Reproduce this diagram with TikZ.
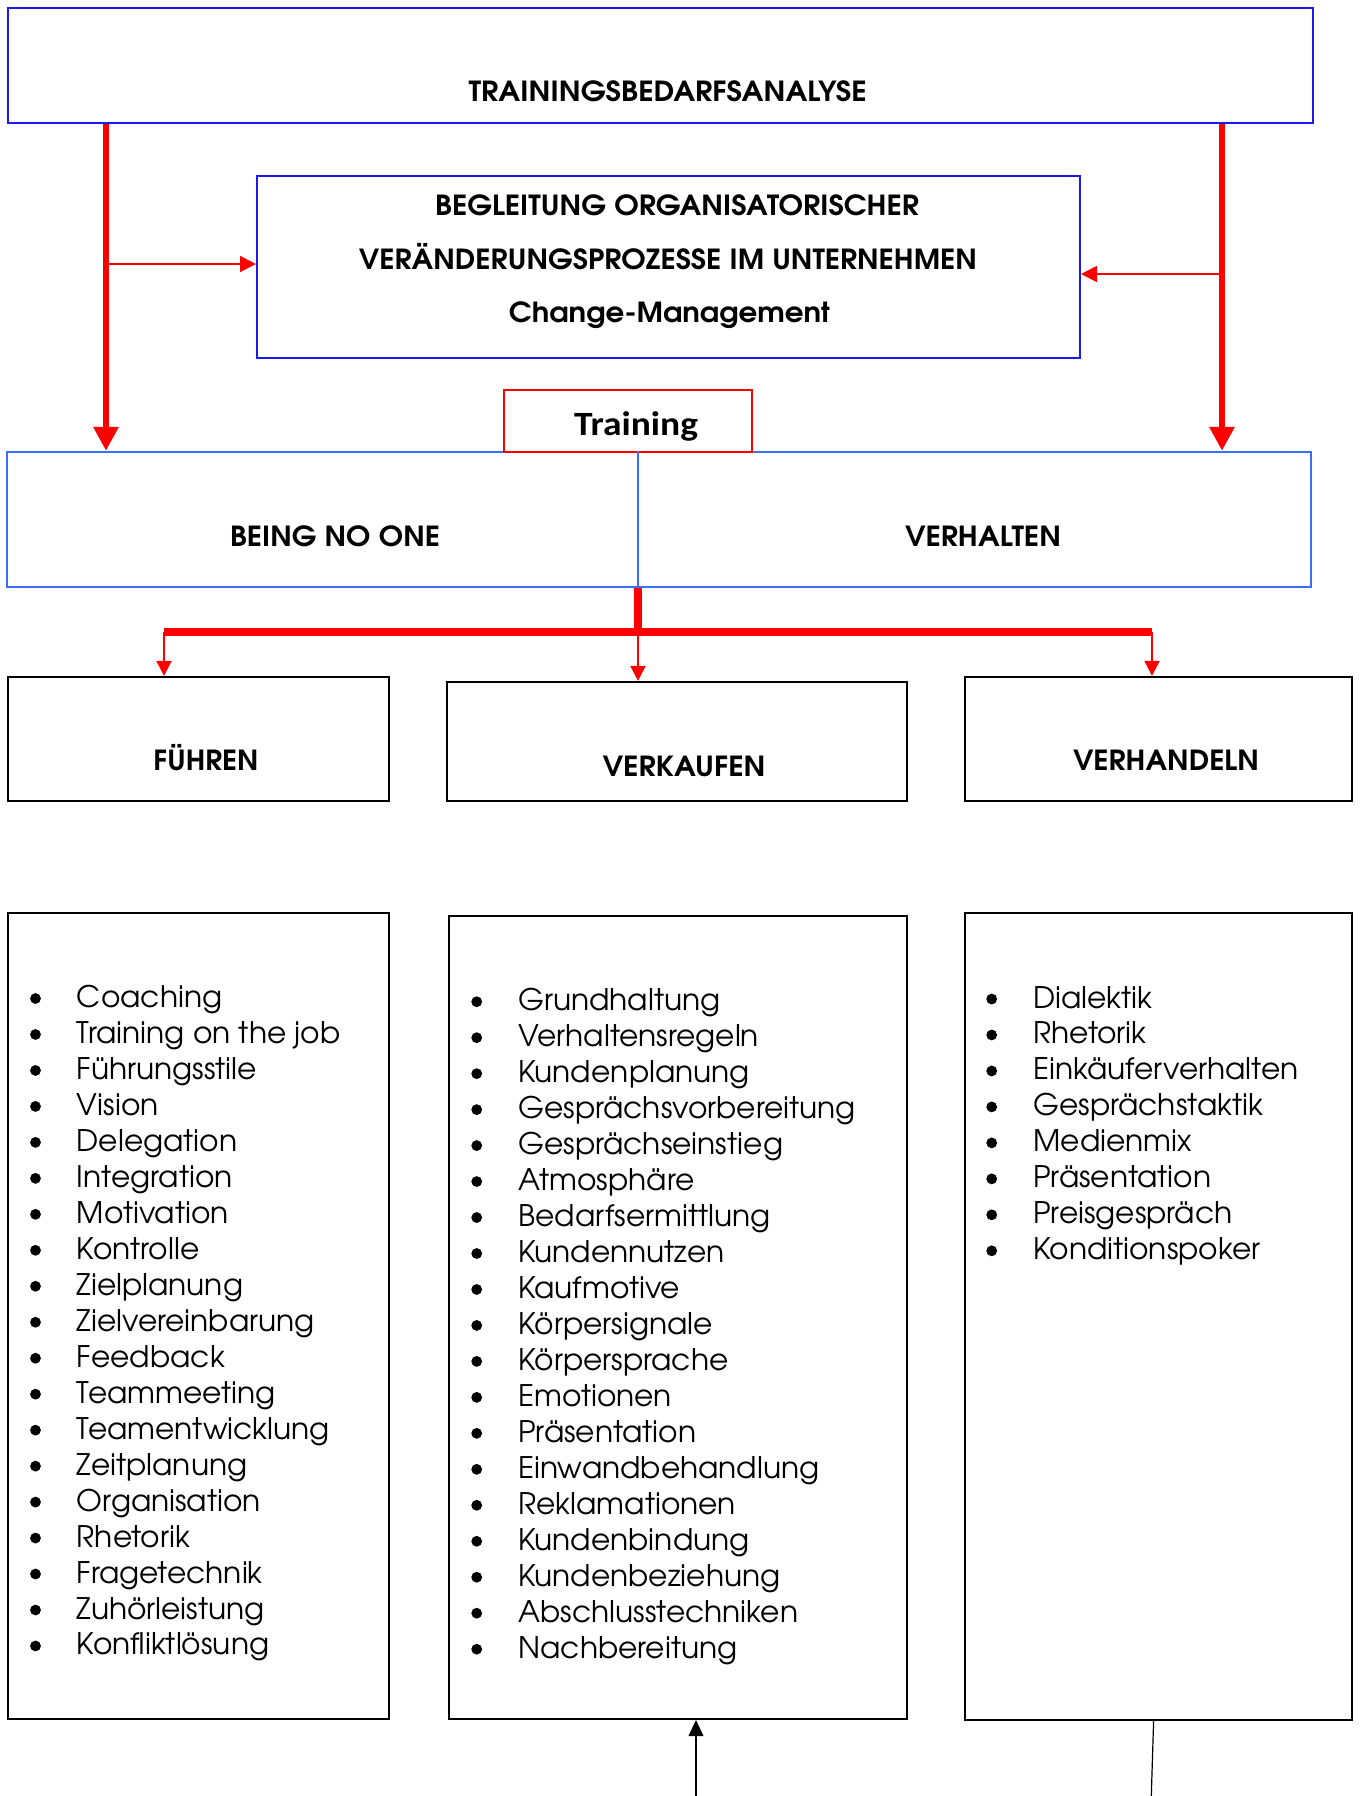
\documentclass[tikz,border=0pt]{standalone}
\usepackage{fontspec}
\usepackage{graphicx}
\usetikzlibrary{arrows.meta,fit}
\setmainfont{texgyreadventor-regular.otf}[BoldFont=texgyreadventor-bold.otf]
\newfontfamily\calib{Carlito}
\newdimen\pxu \pxu=0.5pt
\definecolor{dblue}{RGB}{25,25,240}
\definecolor{lblue}{RGB}{60,110,245}
\newcommand\hd[2]{\resizebox{#1\pxu}{\height}{\fontsize{13.85}{16}\selectfont\bfseries #2}}
\tikzset{
  bluebox/.style={draw=dblue, line width=1pt, inner sep=0pt},
  lbox/.style={draw=lblue, line width=1.2pt, inner sep=0pt},
  redbox/.style={draw=red, line width=0.8pt, inner sep=0pt, fill=white},
  blkbox/.style={draw=black, line width=1.1pt, inner sep=0pt},
  txt/.style={inner sep=0pt, anchor=base},
  itemtxt/.style={inner sep=0pt, anchor=base west, font=\fontsize{14.85}{18}\selectfont},
  thickred/.style={draw=red, line width=3.2pt, -{Triangle[width=12pt,length=12pt]}},
  thinred/.style={draw=red, line width=0.9pt, -{Triangle[width=8pt,length=8pt]}},
  thinreddown/.style={draw=red, line width=0.9pt, -{Triangle[width=7.5pt,length=7.5pt]}},
  barline/.style={draw=red, line width=4pt},
  blkarrow/.style={draw=black, line width=0.6pt, -{Triangle[width=7.5pt,length=8pt]}},
}
\begin{document}
\begin{tikzpicture}[x=0.5pt,y=-0.5pt]
\useasboundingbox (0,0) rectangle (1361,1796);
% boxes
\node[bluebox, fit={(8,8)(1313,123)}] (top) {};
\node[bluebox, fit={(257,176)(1080,358)}] (beg) {};
\node[lbox, fit={(7,452)(1311,587)}] (bx) {};
\node[redbox, fit={(504,390)(752,452)}] (train) {};
\node[blkbox, fit={(8,677)(389,801)}] (fu) {};
\node[blkbox, fit={(447,682)(907,801)}] (vk) {};
\node[blkbox, fit={(965,677)(1352,801)}] (vd) {};
\node[blkbox, fit={(8,913)(389,1719)}] (la) {};
\node[blkbox, fit={(449,916)(907,1719)}] (lb) {};
\node[blkbox, fit={(965,913)(1352,1720)}] (lc) {};
% texts
\node[txt] (t1) at (667.7,101.7) {\hd{398}{TRAININGSBEDARFSANALYSE}};
\node[txt] (t2) at (677,215) {\hd{484}{BEGLEITUNG ORGANISATORISCHER}};
\node[txt] (t3) at (668,269) {\hd{618}{VERÄNDERUNGSPROZESSE IM UNTERNEHMEN}};
\node[txt] (t4) at (669.5,322) {\hd{321}{Change-Management}};
\node[txt] (t5) at (636,435) {\resizebox{124\pxu}{\height}{\calib\fontsize{17}{20}\selectfont\bfseries Training}};
\node[txt] (t6) at (335,546) {\hd{210}{BEING NO ONE}};
\node[txt] (t7) at (983,546) {\hd{156}{VERHALTEN}};
\node[txt] (t8) at (206,770) {\hd{105}{FÜHREN}};
\node[txt] (t9) at (684,776) {\hd{163}{VERKAUFEN}};
\node[txt] (t10) at (1166,770) {\hd{186}{VERHANDELN}};
% divider
\coordinate (dv) at (638,0);
\draw[draw=lblue, line width=0.7pt] (bx.north -| dv) -- (bx.south -| dv);
% thick arrows
\coordinate (xl) at (106,0);
\coordinate (xr) at (1222,0);
\draw[thickred] (top.south -| xl) -- (bx.north -| xl);
\draw[thickred] (top.south -| xr) -- (bx.north -| xr);
\coordinate (jl) at (106,264);
\coordinate (jr) at (1222,274);
\draw[thinred] (jl) -- (jl -| beg.west);
\draw[thinred] (jr) -- (jr -| beg.east);
% trunk and bar
\coordinate (bar) at (638,632);
\coordinate (bl) at (164,632);
\coordinate (br) at (1152,632);
\draw[barline] (bx.south -| dv) -- (bar);
\draw[barline] (bl) -- (br);
\draw[thinreddown] (bl) -- (fu.north -| bl);
\draw[thinreddown] (bar) -- (vk.north -| bar);
\draw[thinreddown] (br) -- (vd.north -| br);
% bottom connectors
\coordinate (b1) at (696,1796);
\draw[blkarrow] (b1) -- (lb.south -| b1);
\coordinate (b3) at (1153.6,0);
\coordinate (b2) at (1151.3,1796);
\draw[draw=black, line width=0.6pt] (lc.south -| b3) -- (b2);
% lists
\foreach \t [count=\i from 0] in {Coaching, Training on the job, Führungsstile, Vision, Delegation, Integration, Motivation, Kontrolle, Zielplanung, Zielvereinbarung, Feedback, Teammeeting, Teamentwicklung, Zeitplanung, Organisation, Rhetorik, Fragetechnik, Zuhörleistung, Konfliktlösung}{
  \node[itemtxt] (a\i) at (76.5,{1007.5+35.97*\i}) {\t};
  \fill (35.5,{998.5+35.97*\i}) circle[radius=2.7pt];
}
\foreach \t [count=\i from 0] in {Grundhaltung, Verhaltensregeln, Kundenplanung, Gesprächsvorbereitung, Gesprächseinstieg, Atmosphäre, Bedarfsermittlung, Kundennutzen, Kaufmotive, Körpersignale, Körpersprache, Emotionen, Präsentation, Einwandbehandlung, Reklamationen, Kundenbindung, Kundenbeziehung, Abschlusstechniken, Nachbereitung}{
  \node[itemtxt] (b\i) at (518,{1010.7+35.97*\i}) {\t};
  \fill (476.7,{1001.7+35.97*\i}) circle[radius=2.7pt];
}
\foreach \t [count=\i from 0] in {Dialektik, Rhetorik, Einkäuferverhalten, Gesprächstaktik, Medienmix, Präsentation, Preisgespräch, Konditionspoker}{
  \node[itemtxt] (c\i) at (1033,{1008+35.97*\i}) {\t};
  \fill (991.7,{999+35.97*\i}) circle[radius=2.7pt];
}
\end{tikzpicture}
\end{document}
